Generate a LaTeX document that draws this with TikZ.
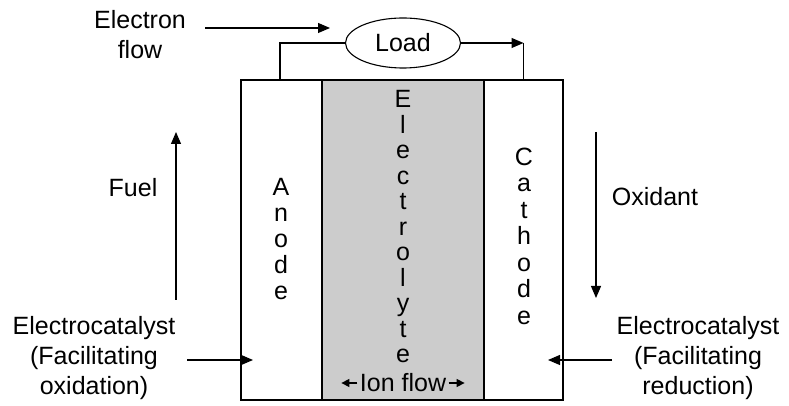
\documentclass[tikz,border=0pt]{standalone}
\usepackage{fontspec}
\setmainfont{Liberation Sans}
\usetikzlibrary{shapes.geometric,positioning,arrows.meta,calc}

\begin{document}
\begin{tikzpicture}[
            x=1pt, y=1pt,
            >={Triangle[length=12pt,width=10pt]},
            line width=1.1pt,
            cell/.style={rectangle, draw, minimum height=320pt, inner sep=0pt},
            lbl/.style={align=center, inner sep=0pt, font=\fontsize{25}{30}\selectfont},
            letters/.style={align=center, inner sep=0pt, font=\fontsize{25}{#1}\selectfont},
            small/.style={-{Triangle[length=8pt,width=8pt]}}
        ]
            \useasboundingbox (0,0) rectangle (789,406);
            % cell
            \node[cell, minimum width=81pt] (anode) at (281.5,166) {};
            \node[cell, minimum width=162pt, fill=black!20] (elyte) at (403,166) {};
            \node[cell, minimum width=79pt] (cathode) at (523.5,166) {};
            \node[letters=26pt] (anodetxt) at (281,167) {A\\n\\o\\d\\e};
            \node[letters=25.5pt] (elytetxt) at (403,179) {E\\l\\e\\c\\t\\r\\o\\l\\y\\t\\e};
            \node[letters=26.5pt] (cathodetxt) at (524,170) {C\\a\\t\\h\\o\\d\\e};
            \node[lbl, inner sep=2pt] (ion) at (403,23) {Ion flow};
            \draw[small] (ion.west) -- ++(-16,0);
            \draw[small] (ion.east) -- ++(16,0);

            % external circuit
            \node[ellipse, draw, minimum width=115pt, minimum height=50pt, lbl] (load) at (403,363) {Load};
            \coordinate (rc) at (load.east -| cathode.north);
            \draw (load.west) -| ([xshift=-1.5pt]anode.north);
            \draw[->] (load.east) -- (rc);
            \draw (rc) -- (cathode.north);
            \node[lbl] (eflow) at (140,371) {Electron\\flow};
            \coordinate (ea) at (205,378);
            \coordinate (eb) at (330,378);
            \draw[->] (ea) -- (eb);

            % reactants
            \node[lbl] (fuel) at (133,218) {Fuel};
            \coordinate (fa) at (176,106);
            \coordinate (fb) at (176,274);
            \draw[->] (fa) -- (fb);
            \node[lbl] (oxid) at (655,209) {Oxidant};
            \coordinate (oa) at (596,274);
            \coordinate (ob) at (596,108);
            \draw[->] (oa) -- (ob);

            % catalysts
            \node[lbl] (catL) at (94,48) {Electrocatalyst\\(Facilitating\\oxidation)};
            \coordinate (la) at (187,46);
            \coordinate (lb) at (253,46);
            \draw[->] (la) -- (lb);
            \node[lbl] (catR) at (698,48) {Electrocatalyst\\(Facilitating\\reduction)};
            \coordinate (ra) at (612,46);
            \coordinate (rb) at (548,46);
            \draw[->] (ra) -- (rb);
        \end{tikzpicture}
\end{document}
